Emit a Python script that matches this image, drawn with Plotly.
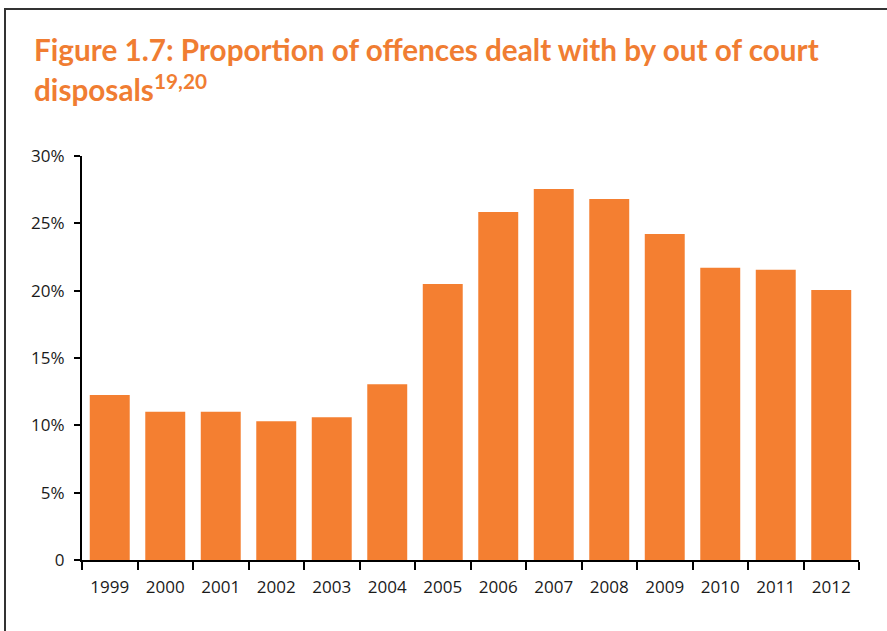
import plotly.graph_objects as go

years = ["1999", "2000", "2001", "2002", "2003", "2004", "2005",
         "2006", "2007", "2008", "2009", "2010", "2011", "2012"]
proportion = [12.25, 11.0, 11.0, 10.3, 10.6, 13.05, 20.5,
              25.85, 27.55, 26.8, 24.2, 21.7, 21.55, 20.05]
y_tick_vals = [0, 5, 10, 15, 20, 25, 30]
y_tick_text = ["0", "5%", "10%", "15%", "20%", "25%", "30%"]
title_line1 = "Figure 1.7: Proportion of offences dealt with by out of court"
title_line2 = "disposals<sup>19,20</sup>"

W, H = 887, 631
L, R, T, B = 82, 28, 156, 71
pw, ph = W - L - R, H - T - B

def px(x):
    return (x - L) / pw

def py(y):
    return (H - B - y) / ph

fig = go.Figure(go.Bar(x=years, y=proportion, marker_color="#F47F31",
                       marker_line_width=0, width=0.72))

fig.update_layout(
    width=W, height=H,
    margin=dict(l=L, r=R, t=T, b=B),
    plot_bgcolor="white", paper_bgcolor="white",
    showlegend=False,
    font=dict(family="Open Sans", size=17, color="#1a1a1a"),
)
fig.update_xaxes(
    showline=True, linecolor="black", linewidth=2,
    ticks="outside", tickson="boundaries", ticklen=8, tickwidth=2, tickcolor="black",
    showgrid=False, tickfont=dict(size=17), range=[-0.5, 13.5],
    ticklabelstandoff=11,
)
fig.update_yaxes(
    range=[0, 30], tickvals=y_tick_vals, ticktext=y_tick_text,
    showline=True, linecolor="black", linewidth=2,
    ticks="outside", ticklen=6, tickwidth=2, tickcolor="black",
    showgrid=False, zeroline=False, tickfont=dict(size=17),
    ticklabelstandoff=6,
)

# title (two lines)
title_font = dict(family="Lato", size=29.7, color="#F07D32")
fig.add_annotation(
    xref="paper", yref="paper", x=px(32), y=py(49), xanchor="left", yanchor="middle",
    text="<b>" + title_line1 + "</b>", showarrow=False, align="left", font=title_font,
)
fig.add_annotation(
    xref="paper", yref="paper", x=px(32), y=py(87), xanchor="left", yanchor="middle",
    text="<b>" + title_line2 + "</b>", showarrow=False, align="left", font=title_font,
)

# frame
fig.add_shape(type="line", xref="paper", yref="paper",
              x0=px(5), x1=px(5), y0=py(9), y1=py(631), line=dict(color="#333", width=2))
fig.add_shape(type="line", xref="paper", yref="paper",
              x0=px(4), x1=px(887), y0=py(9), y1=py(9), line=dict(color="#333", width=2))

fig.write_html("out.html", config={"displayModeBar": False})

with open("out.html", encoding="utf-8") as f:
    html = f.read()
html = html.replace("<head>", "<head><style>html,body{margin:0;padding:0;overflow:hidden;}</style>", 1)
with open("out.html", "w", encoding="utf-8") as f:
    f.write(html)
